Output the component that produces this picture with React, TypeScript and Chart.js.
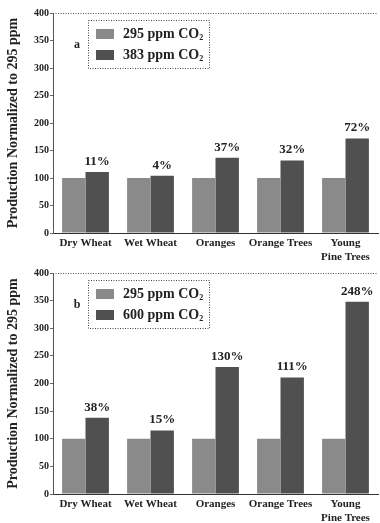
import React, { useEffect, useRef } from "react";
import { Chart, registerables } from "chart.js";
Chart.register(...registerables);

const categories: (string | string[])[] = ["Dry Wheat", "Wet Wheat", "Oranges", "Orange Trees", ["Young", "Pine Trees"]];
const base295 = [100, 100, 100, 100, 100];
const co2_383 = [111, 104, 137, 132, 172];
const pct383 = ["11%", "4%", "37%", "32%", "72%"];
const co2_600 = [138, 115, 230, 211, 348];
const pct600 = ["38%", "15%", "130%", "111%", "248%"];
const yTicks = [0, 50, 100, 150, 200, 250, 300, 350, 400];

const LIGHT = "#8a8a8a";
const DARK = "#505050";
const FONT = "'Liberation Serif', 'DejaVu Serif', serif";

function makePanel(canvas: HTMLCanvasElement, high: number[], pcts: string[], highLabel: string, letter: string, xHeight: number) {
  const overlay = {
    id: "overlay",
    afterDatasetsDraw(chart: any) {
      const ctx = chart.ctx;
      const { left, right, top } = chart.chartArea;
      ctx.save();
      ctx.strokeStyle = "#555";
      ctx.lineWidth = 1;
      ctx.setLineDash([1, 1.5]);
      ctx.beginPath();
      ctx.moveTo(left, top + 0.5);
      ctx.lineTo(right, top + 0.5);
      ctx.stroke();
      ctx.setLineDash([]);
      ctx.fillStyle = "#222";
      ctx.font = `bold 13px ${FONT}`;
      ctx.textAlign = "center";
      ctx.textBaseline = "bottom";
      const meta = chart.getDatasetMeta(1);
      meta.data.forEach((bar: any, i: number) => {
        ctx.fillText(pcts[i], bar.x, bar.y - 4);
      });
      const bx = left + 35, by = top + 7, bw = 121, bh = 48;
      ctx.strokeStyle = "#444";
      ctx.setLineDash([1, 1.5]);
      ctx.strokeRect(bx + 0.5, by + 0.5, bw, bh);
      ctx.setLineDash([]);
      const rows = [["295 ppm CO", LIGHT], [highLabel + " ppm CO", DARK]];
      rows.forEach((r, k) => {
        const cy = by + 14 + k * 21;
        ctx.fillStyle = r[1];
        ctx.fillRect(bx + 8, cy - 5, 18, 10);
        ctx.fillStyle = "#222";
        ctx.font = `bold 14px ${FONT}`;
        ctx.textAlign = "left";
        ctx.textBaseline = "middle";
        ctx.fillText(r[0], bx + 35, cy);
        const w = ctx.measureText(r[0]).width;
        ctx.font = `bold 8px ${FONT}`;
        ctx.fillText("2", bx + 35 + w, cy + 4);
      });
      ctx.font = `bold 12px ${FONT}`;
      ctx.fillStyle = "#222";
      ctx.textAlign = "center";
      ctx.fillText(letter, left + 24, top + 32);
      ctx.restore();
    },
  };
  return new Chart(canvas, {
    type: "bar",
    data: {
      labels: categories,
      datasets: [
        { label: "295 ppm CO2", data: base295, backgroundColor: LIGHT },
        { label: highLabel + " ppm CO2", data: high, backgroundColor: DARK },
      ],
    },
    options: {
      responsive: false,
      animation: false,
      layout: { padding: { top: 13, right: 2, left: 0, bottom: 0 } },
      plugins: { legend: { display: false }, tooltip: { enabled: false } },
      datasets: { bar: { categoryPercentage: 0.72, barPercentage: 1 } },
      scales: {
        x: {
          grid: { display: true, drawOnChartArea: false, drawTicks: false },
          border: { display: true, color: "#333", width: 1 },
          ticks: { color: "#222", font: { family: FONT, weight: "bold", size: 11 }, padding: 4, maxRotation: 0, autoSkip: false },
          afterFit: (s: any) => { s.height = xHeight; },
        },
        y: {
          min: 0,
          max: 400,
          afterBuildTicks: (s: any) => { s.ticks = yTicks.map((v) => ({ value: v })); },
          grid: { display: true, drawOnChartArea: false, drawTicks: true, tickLength: 3, color: "#666" },
          border: { display: true, color: "#555", dash: [1, 1.5] },
          ticks: { color: "#222", font: { family: FONT, weight: "bold", size: 10 }, padding: 1 },
          title: { display: true, text: "Production Normalized to 295 ppm", color: "#222", font: { family: FONT, weight: "bold", size: 14 }, padding: { top: 5, bottom: 4 } },
          afterFit: (s: any) => { s.width = 53; },
        },
      },
    },
    plugins: [overlay],
  });
}

export default function App() {
  const r1 = useRef<HTMLCanvasElement>(null);
  const r2 = useRef<HTMLCanvasElement>(null);
  useEffect(() => {
    document.body.style.margin = "0";
    document.body.style.background = "#fff";
    const c1 = makePanel(r1.current!, co2_383, pct383, "383", "a", 27);
    const c2 = makePanel(r2.current!, co2_600, pct600, "600", "b", 29);
    return () => { c1.destroy(); c2.destroy(); };
  }, []);
  return (
    <div style={{ width: 380, height: 523, background: "#fff" }}>
      <canvas ref={r1} width={380} height={260} style={{ display: "block" }} />
      <canvas ref={r2} width={380} height={263} style={{ display: "block" }} />
    </div>
  );
}
